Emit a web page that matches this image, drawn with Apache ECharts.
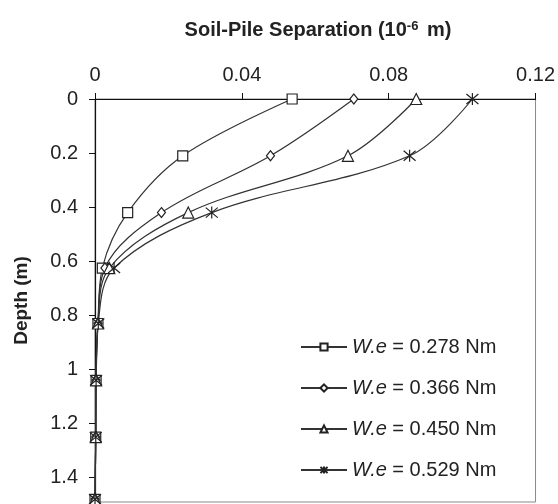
<!DOCTYPE html>
<html>
<head>
<meta charset="utf-8">
<script src="https://cdn.jsdelivr.net/npm/echarts@6/dist/echarts.min.js"></script>
<style>
  html, body { margin: 0; padding: 0; background: #fff; }
  #chart { width: 558px; height: 504px; }
</style>
</head>
<body>
<div id="chart"></div>
<script>
// depth below ground (m)
var depths = [0, 0.21, 0.42, 0.625, 0.83, 1.04, 1.25, 1.48]
// soil-pile separation (10^-6 m) for each W.e
var sep278 = [0.0537, 0.0239, 0.0089, 0.0020, 0.0008, 0.0003, 0.0002, 0]
var sep366 = [0.0705, 0.0478, 0.0181, 0.0027, 0.0008, 0.0003, 0.0002, 0]
var sep450 = [0.0875, 0.0689, 0.0254, 0.0039, 0.0008, 0.0003, 0.0002, 0]
var sep529 = [0.1028, 0.0857, 0.0318, 0.0052, 0.0009, 0.0003, 0.0002, 0]
var seriesNames = ['W.e = 0.278 Nm', 'W.e = 0.366 Nm', 'W.e = 0.450 Nm', 'W.e = 0.529 Nm']

var asterisk = 'path://M0,0L10,10M10,0L0,10M5,-1L5,11'
var font = 'Liberation Sans, Arial, sans-serif'

function pairs(xs) {
  return xs.map(function (x, i) { return [x, depths[i]] })
}

function makeSeries(name, xs, symbol, size) {
  return {
    name: name,
    type: 'line',
    data: pairs(xs),
    smooth: 0.35,
    symbol: symbol,
    symbolSize: size,
    lineStyle: { color: '#333', width: 1.2 },
    itemStyle: { color: '#fff', borderColor: '#222', borderWidth: 1.2 },
    z: 3
  }
}

var chart = echarts.init(document.getElementById('chart'))
chart.setOption({
  animation: false,
  textStyle: { fontFamily: font },
  title: {
    text: '{b|Soil-Pile Separation (10}{s|-6}{b| m)}',
    left: 313,
    top: 15,
    textAlign: 'center',
    textStyle: {
      rich: {
        b: { fontSize: 20, fontWeight: 'bold', color: '#222', fontFamily: font },
        s: { fontSize: 13, fontWeight: 'bold', color: '#222', fontFamily: font, verticalAlign: 'top', padding: [0, 3, 8, 0] }
      }
    }
  },
  grid: {
    left: 95, top: 99, right: 22, bottom: 2,
    show: true, borderColor: '#888', borderWidth: 1
  },
  legend: {
    orient: 'vertical',
    left: 295,
    top: 332,
    itemWidth: 46,
    itemHeight: 9,
    itemGap: 21,
    textStyle: {
      fontSize: 20, color: '#222', lineHeight: 20, fontFamily: font,
      rich: { i: { fontStyle: 'italic', fontSize: 20, color: '#222', fontFamily: font } }
    },
    formatter: function (name) { return '{i|W.e}' + name.slice(3) },
    data: seriesNames
  },
  xAxis: {
    type: 'value',
    position: 'top',
    min: 0, max: 0.12, interval: 0.04,
    axisLine: { show: true, lineStyle: { color: '#111', width: 1.2 } },
    axisTick: { show: true, inside: false, length: 6, lineStyle: { color: '#111' } },
    axisLabel: { fontSize: 20, color: '#222', margin: 14, fontFamily: font },
    splitLine: { show: false }
  },
  yAxis: {
    type: 'value',
    inverse: true,
    min: 0, max: 1.49, interval: 0.2,
    name: 'Depth (m)',
    nameLocation: 'middle',
    nameGap: 64,
    nameRotate: 90,
    nameTextStyle: { fontSize: 19, fontWeight: 'bold', color: '#222', fontFamily: font },
    axisLine: { show: true, lineStyle: { color: '#111', width: 1.2 } },
    axisTick: { show: true, inside: false, length: 6, lineStyle: { color: '#111' } },
    axisLabel: { fontSize: 20, color: '#222', margin: 17, showMaxLabel: false, fontFamily: font },
    splitLine: { show: false }
  },
  series: [
    makeSeries(seriesNames[0], sep278, 'rect', 10),
    makeSeries(seriesNames[1], sep366, 'diamond', [8, 10]),
    makeSeries(seriesNames[2], sep450, 'triangle', 11),
    makeSeries(seriesNames[3], sep529, asterisk, 12)
  ]
})
</script>
</body>
</html>
